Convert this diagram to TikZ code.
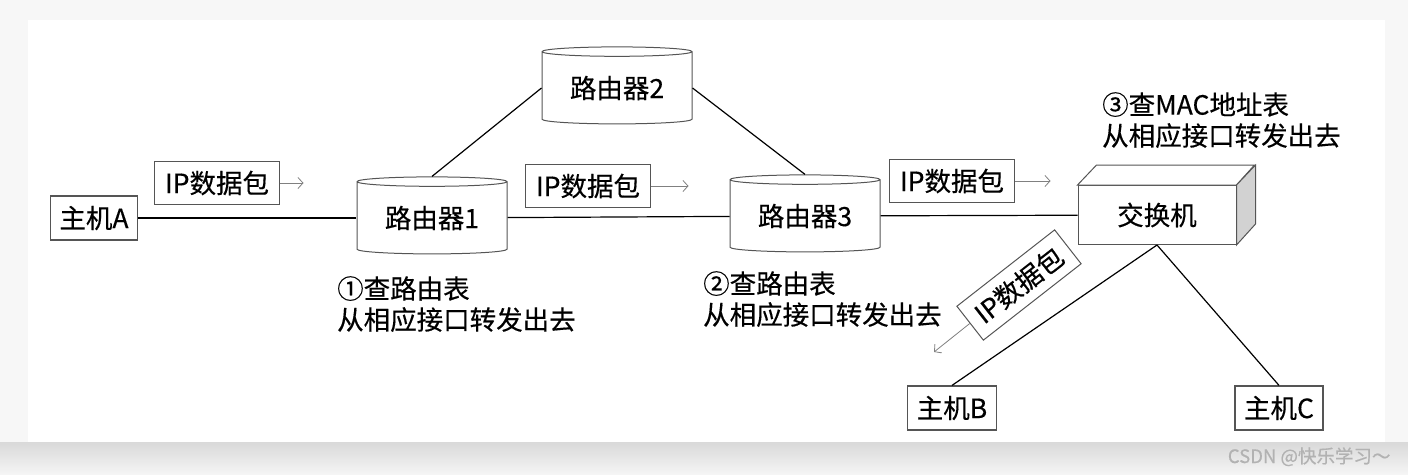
\documentclass[tikz,border=0pt]{standalone}
\usepackage{fontspec}
\setmainfont{Noto Sans CJK SC}[FakeBold=0.4]
\usetikzlibrary{positioning,arrows.meta,shapes.geometric}
\definecolor{edge}{RGB}{85,85,85}

\begin{document}
\begin{tikzpicture}[x=1pt,y=-1pt,font=\fontsize{26.5}{31}\selectfont,
   host/.style={draw=edge,line width=1.2pt,minimum height=44pt,inner xsep=9pt},
   pkt/.style={draw=edge,line width=1pt,minimum height=43pt,inner xsep=10pt},
   router/.style={cylinder,shape border rotate=90,draw=edge,line width=1pt,
     aspect=0.1,minimum width=150pt,minimum height=77pt,inner sep=0pt},
   link/.style={line width=1.2pt},
   flow/.style={draw=gray,line width=0.8pt,-{Straight Barb[length=5pt,width=11pt]}},
   note/.style={align=left,anchor=north west,inner sep=0pt}]
  \useasboundingbox (0,0) rectangle (1408,474);
  \fill[gray!6] (0,0) rectangle (1408,474);
  \shade[top color=gray!30,bottom color=gray!8] (0,442) rectangle (1408,474);
  \fill[white] (28,20) rectangle (1385,442);

  % hosts and routers
  \node[host] (ha) at (94,218) {主机A};
  \node[host] (hb) at (952,408) {主机B};
  \node[host] (hc) at (1279,408) {主机C};
  \node[router] (r1) at (432,218) {路由器1};
  \node[router] (r2) at (617,88) {路由器2};
  \node[router] (r3) at (805,216) {路由器3};

  % switch (3d box)
  \node[draw=edge,line width=1pt,minimum width=158pt,minimum height=59pt] (sw) at (1157,215) {交换机};
  \draw[edge,line width=1pt,fill=white] (sw.north west) -- ++(19,-20) -- ++(158,0)
    -- (sw.north east) -- cycle;
  \draw[edge,line width=1pt,fill=gray!35] (sw.north east) -- ++(19,-20) -- ++(0,59)
    -- (sw.south east) -- cycle;

  % links
  \draw[link] (ha) -- (r1);
  \draw[link] (r1) -- (r3);
  \draw[link] (r1.north) -- (r2.west);
  \draw[link] (r2.east) -- (r3.north);
  \draw[link] (r3) -- (sw);
  \draw[link] (sw.south) -- (hb.north);
  \draw[link] (sw.south) -- (hc.north);

  % packets
  \node[pkt] (p1) at (217,183) {IP数据包};
  \node[pkt] (p2) at (588,186) {IP数据包};
  \node[pkt] (p3) at (952,181) {IP数据包};
  \node[pkt,rotate=38] (p4) at (1019,285) {IP数据包};
  \coordinate[right=24pt of p1] (p1e);
  \coordinate[right=38pt of p2] (p2e);
  \coordinate[right=36pt of p3] (p3e);
  \coordinate (p4e) at (934,352);
  \draw[flow] (p1) -- (p1e);
  \draw[flow] (p2) -- (p2e);
  \draw[flow] (p3) -- (p3e);
  \draw[flow] (p4.west) -- (p4e);

  % notes
  \node[note] (n1) at (337,276) {①查路由表\\从相应接口转发出去};
  \node[note] (n2) at (703,271) {②查路由表\\从相应接口转发出去};
  \node[note] (n3) at (1102,92) {③查MAC地址表\\从相应接口转发出去};

  \node[anchor=base east,text=gray!60,font=\fontsize{18.5}{20}\selectfont] (wm) at (1394,463) {CSDN @快乐学习～};
\end{tikzpicture}
\end{document}
